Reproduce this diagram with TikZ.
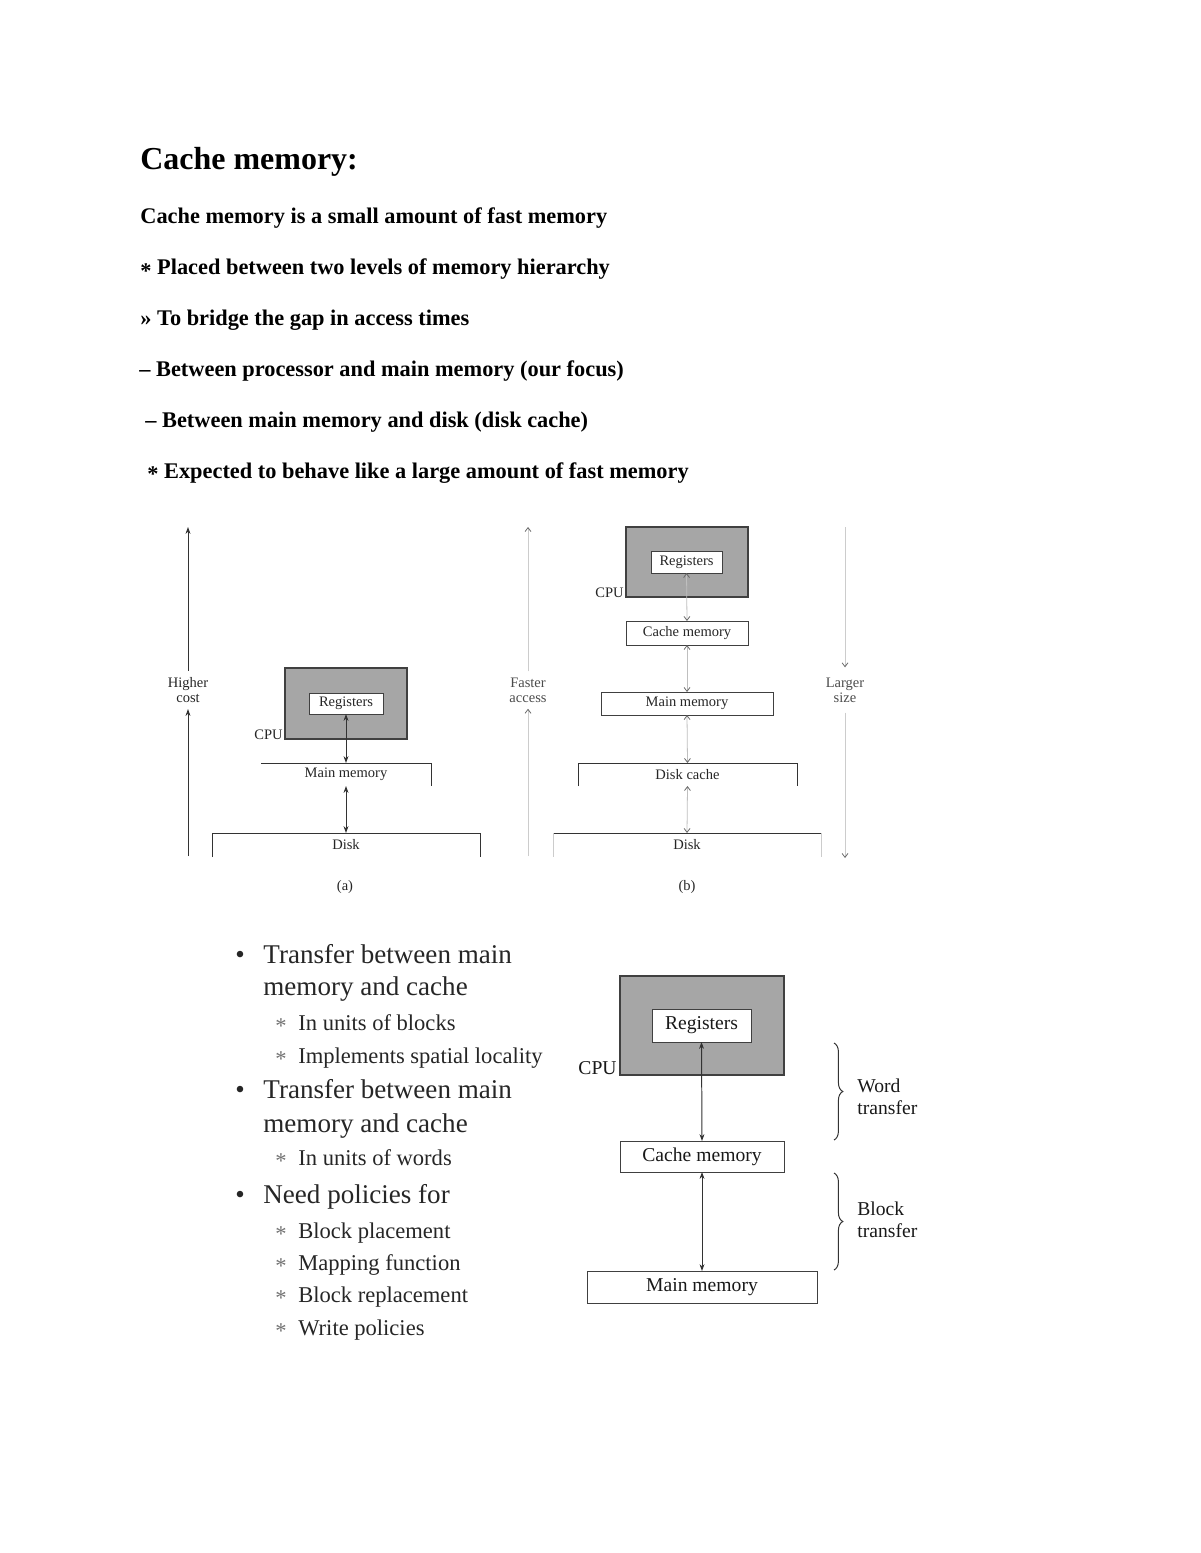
\documentclass[tikz,border=0pt]{standalone}
\usepackage{fontspec}
\setmainfont{Liberation Serif}
\usetikzlibrary{arrows.meta,decorations.pathreplacing}
\newcommand\pu{0.51pt}
\newcommand\mybox[7]{\node[#6, minimum width={(#4-#2)*\pu}, minimum height={(#5-#3)*\pu}] (#1) at ({(#2+#4)/2},{(#3+#5)/2}) {#7};}
\begin{document}
\begin{tikzpicture}[x=0.51pt,y=-0.51pt,
  head/.style={font=\fontsize{16.3}{18}\selectfont\bfseries, anchor=base west, inner sep=0},
  body/.style={font=\fontsize{11.4}{14}\selectfont\bfseries, anchor=base west, inner sep=0},
  blt/.style={font=\fontsize{13.8}{16}\selectfont, anchor=base west, inner sep=0, text=black!85},
  sub/.style={font=\fontsize{11.5}{13}\selectfont, anchor=base west, inner sep=0, text=black!85},
  small/.style={font=\fontsize{7.4}{7.8}\selectfont, inner sep=0, text=black!85, align=center},
  mid/.style={font=\fontsize{10}{11.2}\selectfont, inner sep=0, text=black!90},
  cpubox/.style={draw=black!75, fill=black!35, line width=0.6pt, inner sep=0, outer sep=0},
  wbox/.style={draw=black!75, fill=white, line width=0.5pt, inner sep=0, outer sep=0},
  plain/.style={inner sep=0, outer sep=0},
  open/.style={draw=black!80, line width=0.5pt},
  darr/.style={{Stealth[length=3.5pt,width=2.5pt]}-{Stealth[length=3.5pt,width=2.5pt]}, line width=0.5pt, draw=black!80},
  uparr/.style={-{Stealth[length=3.5pt,width=2.5pt]}, line width=0.5pt, draw=black!80},
  farr/.style={{Straight Barb[length=2pt,width=3pt,color=black!60]}-{Straight Barb[length=2pt,width=3pt,color=black!60]}, line width=0.4pt, draw=black!25},
  fone/.style={-{Straight Barb[length=2pt,width=3pt,color=black!60]}, line width=0.4pt, draw=black!20},
  brc/.style={decorate, decoration={brace, amplitude=4.5pt}, line width=0.5pt, draw=black!80}
]
\useasboundingbox (0,0) rectangle (1200,1553);
\fill[white] (0,0) rectangle (1200,1553);

% ---------- Text block ----------
\node[head] (title) at (140,170) {Cache memory:};
\node[body] (l1) at (140,224) {Cache memory is a small amount of fast memory};
\node[body] (l2) at (140,275) {\raisebox{-0.3ex}{*} Placed between two levels of memory hierarchy};
\node[body] (l3) at (140,325) {» To bridge the gap in access times};
\node[body] (l4) at (139,376) {– Between processor and main memory (our focus)};
\node[body] (l5) at (145,427) {– Between main memory and disk (disk cache)};
\node[body] (l6) at (147,478) {\raisebox{-0.3ex}{*} Expected to behave like a large amount of fast memory};

% ---------- Diagram (a) ----------
\coordinate (aBot) at (188,856);
\coordinate (aTop) at (188,527);
\node[small, inner sep=3pt] (hc) at (188,690) {Higher\\cost};
\draw[uparr] (aBot) -- (hc.south);
\draw[uparr] (hc.north) -- (aTop);

\mybox{cpua}{285}{668}{407}{739}{cpubox}{}
\mybox{rega}{309}{693}{383}{714}{wbox,small}{Registers}
\node[small, anchor=base east] (cpula) at (283,739) {CPU};
\mybox{mma}{261}{763}{431}{786}{plain,small}{Main memory}
\draw[open] (mma.north west) -- (mma.north east) -- (mma.south east);
\mybox{diska}{212}{833}{480}{857}{plain,small}{Disk}
\draw[open] (diska.south west) |- (diska.north east) -- (diska.south east);
\draw[darr] (rega.south) -- (mma.north);
\draw[darr] (mma.south) -- (diska.north);
\node[small] (capa) at (345,887) {(a)};

% ---------- Diagram (b) ----------
\coordinate (bLBot) at (528,856);
\coordinate (bLTop) at (528,527);
\node[small, inner sep=3pt, text=black!70] (fa) at (528,690) {Faster\\access};
\draw[fone] (bLBot) -- (fa.south);
\draw[fone] (fa.north) -- (bLTop);
\coordinate (bRTop) at (845,527);
\coordinate (bRBot) at (845,858);
\node[small, inner sep=5pt, text=black!70] (ls) at (845,690) {Larger\\size};
\draw[fone] (bRTop) -- (ls.north);
\draw[fone] (ls.south) -- (bRBot);

\mybox{cpub}{626}{527}{748}{597}{cpubox}{}
\mybox{regb}{651}{551}{722}{573}{wbox,small}{Registers}
\node[small, anchor=base east] (cpulb) at (624,597) {CPU};
\mybox{cacheb}{626}{621}{748}{645}{wbox,small}{Cache memory}
\mybox{mmb}{601}{692}{773}{715}{wbox,small}{Main memory}
\mybox{dcb}{578}{763}{797}{786}{plain,small}{Disk cache}
\draw[open] (dcb.south west) |- (dcb.north east) -- (dcb.south east);
\mybox{diskb}{553}{833}{821}{857}{plain,small}{Disk}
\draw[open] (diskb.north west) -- (diskb.north east);
\draw[draw=black!20, line width=0.4pt] (diskb.north west) -- (diskb.south west);
\draw[draw=black!20, line width=0.4pt] (diskb.north east) -- (diskb.south east);
\draw[farr] (regb.south) -- (cacheb.north);
\draw[farr] (cacheb.south) -- (mmb.north);
\draw[farr] (mmb.south) -- (dcb.north);
\draw[farr] (dcb.south) -- (diskb.north);
\node[small] (capb) at (687,887) {(b)};

% ---------- Bullet list ----------
\node[blt] (b1) at (235,963) {\makebox[14.3pt][l]{•}Transfer between main};
\node[blt] (b1b) at (263,995) {memory and cache};
\node[sub] (s1) at (275,1030) {\makebox[11.7pt][l]{\textcolor{black!55}{\raisebox{-0.3ex}{*}}}In units of blocks};
\node[sub] (s2) at (275,1063) {\makebox[11.7pt][l]{\textcolor{black!55}{\raisebox{-0.3ex}{*}}}Implements spatial locality};
\node[blt] (b2) at (235,1098) {\makebox[14.3pt][l]{•}Transfer between main};
\node[blt] (b2b) at (263,1132) {memory and cache};
\node[sub] (s3) at (275,1165) {\makebox[11.7pt][l]{\textcolor{black!55}{\raisebox{-0.3ex}{*}}}In units of words};
\node[blt] (b3) at (235,1203) {\makebox[14.3pt][l]{•}Need policies for};
\node[sub] (s4) at (275,1238) {\makebox[11.7pt][l]{\textcolor{black!55}{\raisebox{-0.3ex}{*}}}Block placement};
\node[sub] (s5) at (275,1270) {\makebox[11.7pt][l]{\textcolor{black!55}{\raisebox{-0.3ex}{*}}}Mapping function};
\node[sub] (s6) at (275,1302) {\makebox[11.7pt][l]{\textcolor{black!55}{\raisebox{-0.3ex}{*}}}Block replacement};
\node[sub] (s7) at (275,1335) {\makebox[11.7pt][l]{\textcolor{black!55}{\raisebox{-0.3ex}{*}}}Write policies};

% ---------- Diagram (c) ----------
\mybox{cpuc}{620}{976}{784}{1075}{cpubox}{}
\mybox{regc}{652}{1009}{751}{1042}{wbox,mid}{Registers}
\node[mid, anchor=base east] (cpulc) at (617,1074) {CPU};
\mybox{cachec}{620}{1141}{784}{1172}{wbox,mid}{Cache memory}
\mybox{mmc}{587}{1271}{817}{1303}{wbox,mid}{Main memory}
\draw[darr] (regc.south) -- (cachec.north);
\draw[darr] (cachec.south) -- (mmc.north);

\coordinate (w1) at (834,1043);
\coordinate (w2) at (834,1140);
\draw[brc] (w1) -- (w2);
\node[mid, anchor=west, align=left] (wt) at (857,1097) {Word\\transfer};
\coordinate (k1) at (834,1173);
\coordinate (k2) at (834,1270);
\draw[brc] (k1) -- (k2);
\node[mid, anchor=west, align=left] (bt) at (857,1220) {Block\\transfer};
\end{tikzpicture}
\end{document}
